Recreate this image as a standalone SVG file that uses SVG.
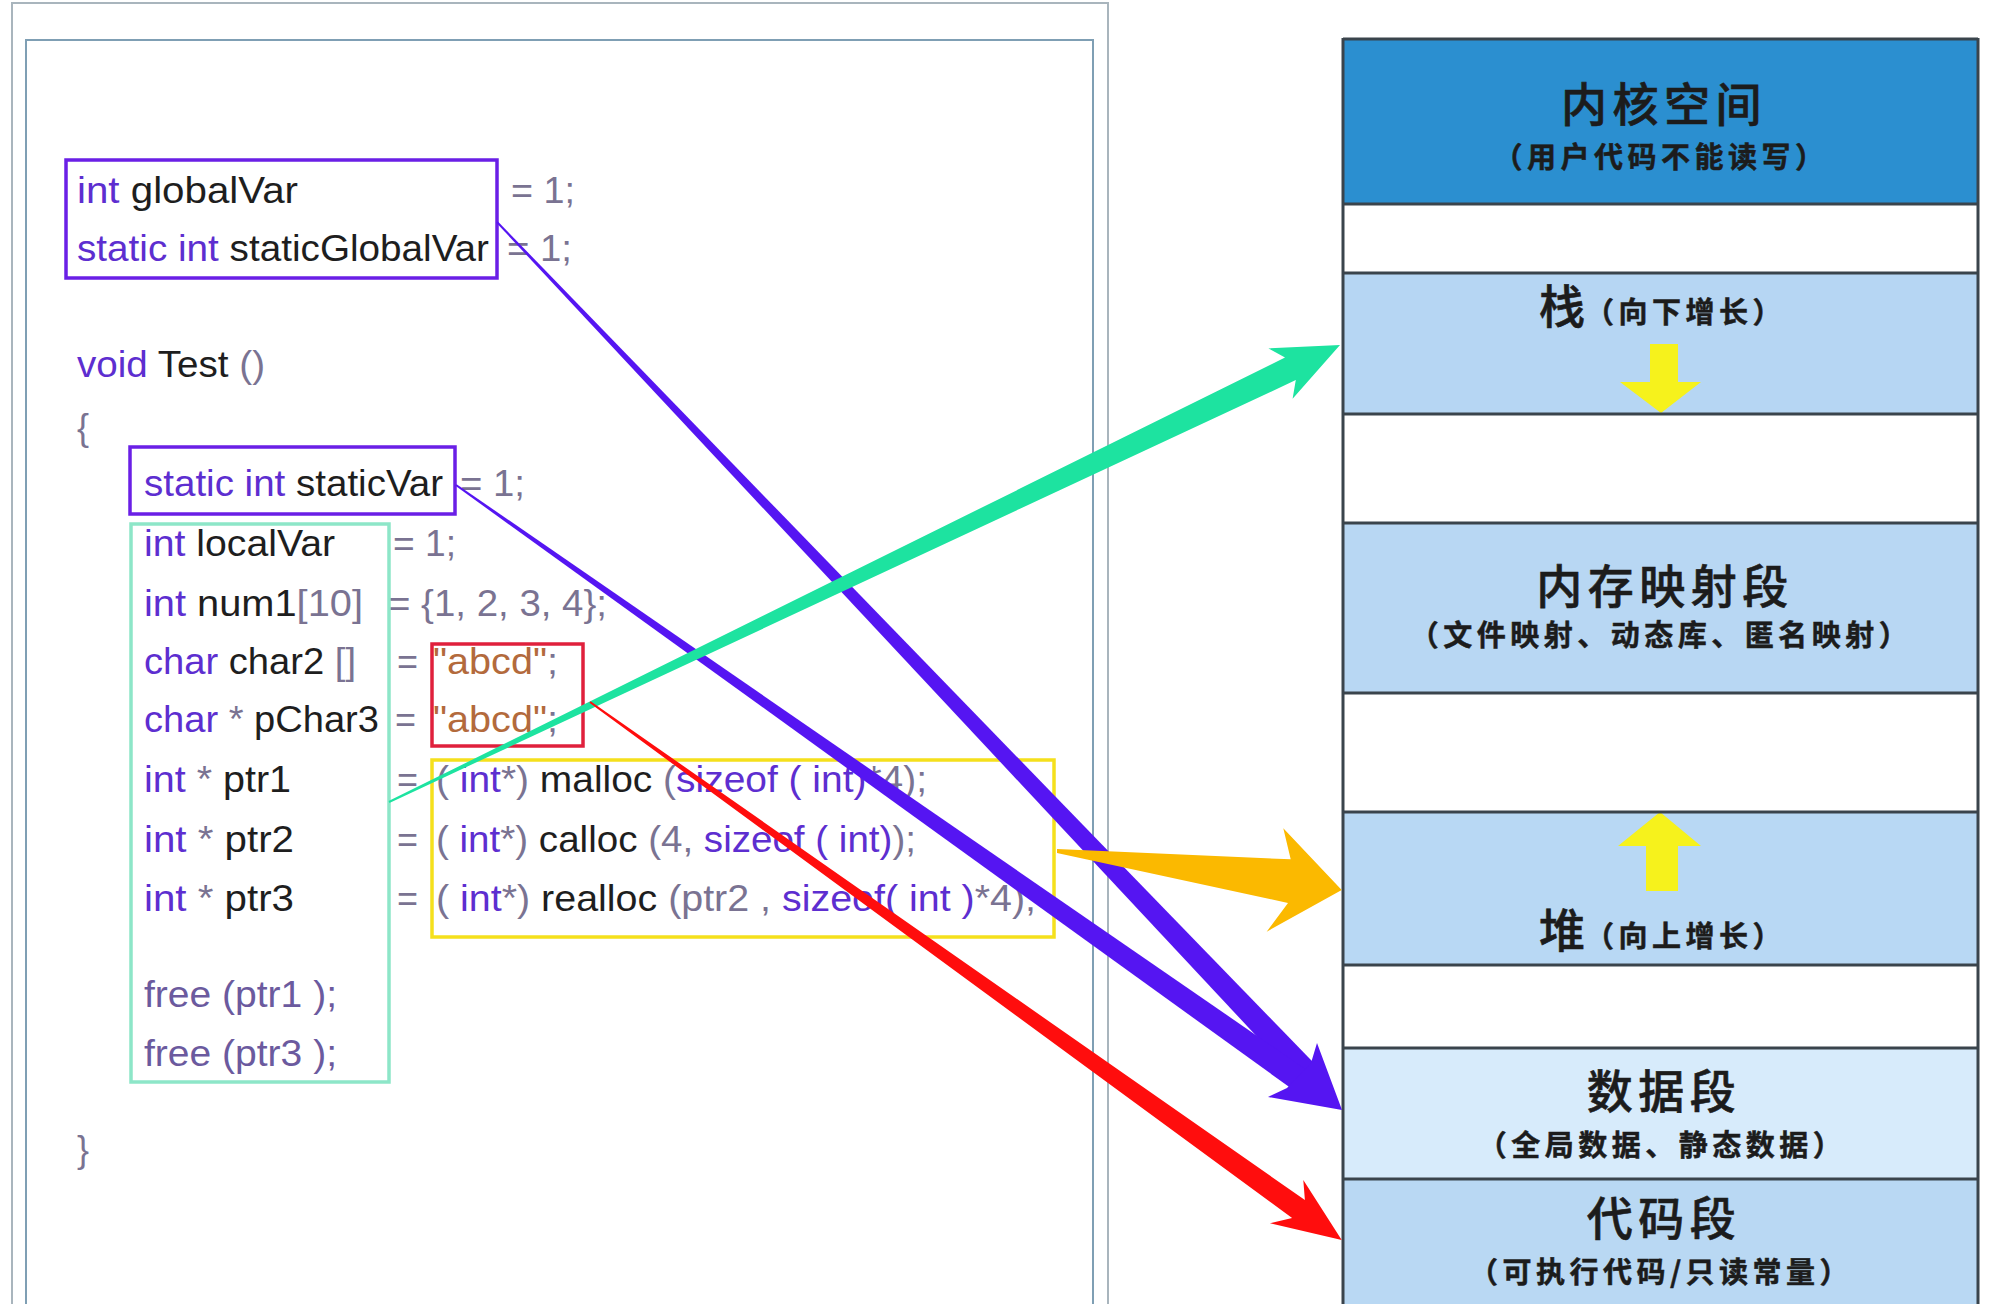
<svg xmlns="http://www.w3.org/2000/svg" width="1990" height="1304" viewBox="0 0 1990 1304">
<style>
.code{font-family:"Liberation Sans",Arial,sans-serif;font-size:36px}
.kw{fill:#5d2ed0}
.id{fill:#1e1e1e}
.pu{fill:#7a7392}
.fr{fill:#6b5a9e}
.str{fill:#b36a3c}
.box{fill:none;stroke-width:3.5}
.seg{stroke:#3a444c;stroke-width:3}
.cjk{font-family:"Noto Sans CJK SC","Noto Sans CJK TC",sans-serif;fill:#1c1c1c;stroke:#1c1c1c}
.title{font-size:46px;font-weight:500;letter-spacing:5.5px;text-anchor:middle;stroke-width:0.6}
.sub{font-size:29px;font-weight:700;letter-spacing:4.5px;text-anchor:middle;stroke-width:0.5}
.subl{font-size:29px;font-weight:700;letter-spacing:4.5px;stroke-width:0.5}
.big{font-size:46px;font-weight:500;stroke-width:0.6}
.grow{fill:#f6f21c}
</style>
<rect width="1990" height="1304" fill="#ffffff"/>

<g id="code-frame" fill="none">
  <polyline points="12,1304 12,3 1108,3 1108,1304" stroke="#a9b5bd" stroke-width="2"/>
  <polyline points="26,1304 26,40 1093,40 1093,1304" stroke="#7f9fb4" stroke-width="2"/>
</g>

<g id="code-text" class="code">
  <text x="77" y="203" textLength="221" lengthAdjust="spacingAndGlyphs"><tspan class="kw">int</tspan><tspan class="id"> globalVar</tspan></text>
  <text x="511" y="203" textLength="64" lengthAdjust="spacingAndGlyphs" class="pu">= 1;</text>
  <text x="77" y="261" textLength="412" lengthAdjust="spacingAndGlyphs"><tspan class="kw">static int</tspan><tspan class="id"> staticGlobalVar</tspan></text>
  <text x="507" y="261" textLength="65" lengthAdjust="spacingAndGlyphs" class="pu">= 1;</text>
  <text x="77" y="377" textLength="188" lengthAdjust="spacingAndGlyphs"><tspan class="kw">void</tspan><tspan class="id"> Test</tspan><tspan class="pu"> ()</tspan></text>
  <text x="77" y="440" class="pu">{</text>
  <text x="144" y="496" textLength="299" lengthAdjust="spacingAndGlyphs"><tspan class="kw">static int</tspan><tspan class="id"> staticVar</tspan></text>
  <text x="460" y="496" textLength="65" lengthAdjust="spacingAndGlyphs" class="pu">= 1;</text>
  <text x="144" y="556" textLength="191" lengthAdjust="spacingAndGlyphs"><tspan class="kw">int</tspan><tspan class="id"> localVar</tspan></text>
  <text x="393" y="556" textLength="63" lengthAdjust="spacingAndGlyphs" class="pu">= 1;</text>
  <text x="144" y="616" textLength="219" lengthAdjust="spacingAndGlyphs"><tspan class="kw">int</tspan><tspan class="id"> num1</tspan><tspan class="pu">[10]</tspan></text>
  <text x="388" y="616" textLength="219" lengthAdjust="spacingAndGlyphs" class="pu">= {1, 2, 3, 4};</text>
  <text x="144" y="674" textLength="212" lengthAdjust="spacingAndGlyphs"><tspan class="kw">char</tspan><tspan class="id"> char2</tspan><tspan class="pu"> []</tspan></text>
  <text x="397" y="674" class="pu">=</text>
  <text x="433" y="674" textLength="125" lengthAdjust="spacingAndGlyphs"><tspan class="str">"abcd"</tspan><tspan class="pu">;</tspan></text>
  <text x="144" y="732" textLength="235" lengthAdjust="spacingAndGlyphs"><tspan class="kw">char</tspan><tspan class="pu"> *</tspan><tspan class="id"> pChar3</tspan></text>
  <text x="395" y="732" class="pu">=</text>
  <text x="433" y="732" textLength="125" lengthAdjust="spacingAndGlyphs"><tspan class="str">"abcd"</tspan><tspan class="pu">;</tspan></text>
  <text x="144" y="792" textLength="147" lengthAdjust="spacingAndGlyphs"><tspan class="kw">int</tspan><tspan class="pu"> *</tspan><tspan class="id"> ptr1</tspan></text>
  <text x="397" y="792" class="pu">=</text>
  <text x="436" y="792" textLength="491" lengthAdjust="spacingAndGlyphs"><tspan class="pu">(</tspan><tspan class="kw"> int</tspan><tspan class="pu">*)</tspan><tspan class="id"> malloc</tspan><tspan class="pu"> (</tspan><tspan class="kw">sizeof ( int)</tspan><tspan class="pu">*4);</tspan></text>
  <text x="144" y="852" textLength="150" lengthAdjust="spacingAndGlyphs"><tspan class="kw">int</tspan><tspan class="pu"> *</tspan><tspan class="id"> ptr2</tspan></text>
  <text x="397" y="852" class="pu">=</text>
  <text x="436" y="852" textLength="480" lengthAdjust="spacingAndGlyphs"><tspan class="pu">(</tspan><tspan class="kw"> int</tspan><tspan class="pu">*)</tspan><tspan class="id"> calloc</tspan><tspan class="pu"> (4, </tspan><tspan class="kw">sizeof ( int)</tspan><tspan class="pu">);</tspan></text>
  <text x="144" y="911" textLength="150" lengthAdjust="spacingAndGlyphs"><tspan class="kw">int</tspan><tspan class="pu"> *</tspan><tspan class="id"> ptr3</tspan></text>
  <text x="397" y="911" class="pu">=</text>
  <text x="436" y="911" textLength="600" lengthAdjust="spacingAndGlyphs"><tspan class="pu">(</tspan><tspan class="kw"> int</tspan><tspan class="pu">*)</tspan><tspan class="id"> realloc</tspan><tspan class="pu"> (ptr2 , </tspan><tspan class="kw">sizeof( int )</tspan><tspan class="pu">*4);</tspan></text>
  <text x="144" y="1007" textLength="193" lengthAdjust="spacingAndGlyphs" class="fr">free (ptr1 );</text>
  <text x="144" y="1066" textLength="193" lengthAdjust="spacingAndGlyphs" class="fr">free (ptr3 );</text>
  <text x="77" y="1162" class="pu">}</text>
</g>

<g id="node-globals"><rect class="box" x="66" y="160" width="431" height="118" stroke="#6a1fe6"/></g>
<g id="node-staticvar"><rect class="box" x="130" y="447" width="325" height="67" stroke="#6a1fe6"/></g>
<g id="node-locals"><rect class="box" x="131" y="524" width="258" height="558" stroke="#8de6c8" stroke-width="2.5"/></g>
<g id="node-strings"><rect class="box" x="432" y="644" width="151" height="102" stroke="#e0203c"/></g>
<g id="node-heapcalls"><rect class="box" x="432" y="760" width="622" height="177" stroke="#f5e01c"/></g>

<g id="mem-kernel">
  <rect x="1343" y="39" width="635" height="165" fill="#2b8fd0"/>
  <text class="cjk title" x="1664" y="121">内核空间</text>
  <text class="cjk sub" x="1661" y="168">（用户代码不能读写）</text>
</g>
<g id="mem-gap1"><rect x="1343" y="204" width="635" height="69" fill="#ffffff"/></g>
<g id="mem-stack">
  <rect x="1343" y="273" width="635" height="141" fill="#b6d6f3"/>
  <text class="cjk" x="1539" y="323"><tspan class="big">栈</tspan><tspan class="subl">（向下增长）</tspan></text>
  <polygon class="grow" points="1650,344 1678,344 1678,382 1701,382 1661,413 1620,382 1650,382"/>
</g>
<g id="mem-gap2"><rect x="1343" y="414" width="635" height="109" fill="#ffffff"/></g>
<g id="mem-mmap">
  <rect x="1343" y="523" width="635" height="170" fill="#b8d7f3"/>
  <text class="cjk title" x="1665" y="603">内存映射段</text>
  <text class="cjk sub" x="1661" y="646">（文件映射、动态库、匿名映射）</text>
</g>
<g id="mem-gap3"><rect x="1343" y="693" width="635" height="119" fill="#ffffff"/></g>
<g id="mem-heap">
  <rect x="1343" y="812" width="635" height="153" fill="#b8d8f4"/>
  <polygon class="grow" points="1660,812 1701,846 1678,846 1678,891 1646,891 1646,846 1618,846"/>
  <text class="cjk" x="1539" y="947"><tspan class="big">堆</tspan><tspan class="subl">（向上增长）</tspan></text>
</g>
<g id="mem-gap4"><rect x="1343" y="965" width="635" height="83" fill="#ffffff"/></g>
<g id="mem-data">
  <rect x="1343" y="1048" width="635" height="131" fill="#d7ebfb"/>
  <text class="cjk title" x="1664" y="1108">数据段</text>
  <text class="cjk sub" x="1662" y="1156">（全局数据、静态数据）</text>
</g>
<g id="mem-code">
  <rect x="1343" y="1179" width="635" height="125" fill="#b9d8f3"/>
  <text class="cjk title" x="1664" y="1235">代码段</text>
  <text class="cjk sub" x="1661" y="1283">（可执行代码/只读常量）</text>
</g>
<g id="mem-lines" class="seg">
  <line x1="1343" y1="39" x2="1978" y2="39"/>
  <line x1="1343" y1="204" x2="1978" y2="204"/>
  <line x1="1343" y1="273" x2="1978" y2="273"/>
  <line x1="1343" y1="414" x2="1978" y2="414"/>
  <line x1="1343" y1="523" x2="1978" y2="523"/>
  <line x1="1343" y1="693" x2="1978" y2="693"/>
  <line x1="1343" y1="812" x2="1978" y2="812"/>
  <line x1="1343" y1="965" x2="1978" y2="965"/>
  <line x1="1343" y1="1048" x2="1978" y2="1048"/>
  <line x1="1343" y1="1179" x2="1978" y2="1179"/>
  <line x1="1343" y1="38" x2="1343" y2="1304"/>
  <line x1="1978" y1="38" x2="1978" y2="1304"/>
</g>

<g id="connectors">
  <polygon fill="#5515f2" points="496.3,222.7 497.7,221.3 1317.5,1066.8 1300.5,1083.2"/>
  <polygon fill="#5515f2" points="455.4,485.8 456.6,484.2 1306.9,1070.2 1293.1,1089.8"/>
  <polygon fill="#5515f2" points="1311,1063 1317,1043 1342,1110 1268,1097 1287,1088"/>
  <polygon fill="#1de3a0" points="388.6,801.1 1285,357.5 1268.4,348.4 1340,345 1292.6,398.8 1295.8,380.1 389.4,802.9"/>
  <polygon fill="#fbb900" points="1057,849 1290.7,859.3 1283.3,828.3 1341.7,890 1266.7,931.7 1288,903 1057,853"/>
  <polygon fill="#ff0d0d" points="590.6,701.2 1304.9,1200.1 1303.3,1180 1341.7,1240 1270,1223.3 1292.1,1217.9 589.4,702.8"/>
</g>
</svg>
